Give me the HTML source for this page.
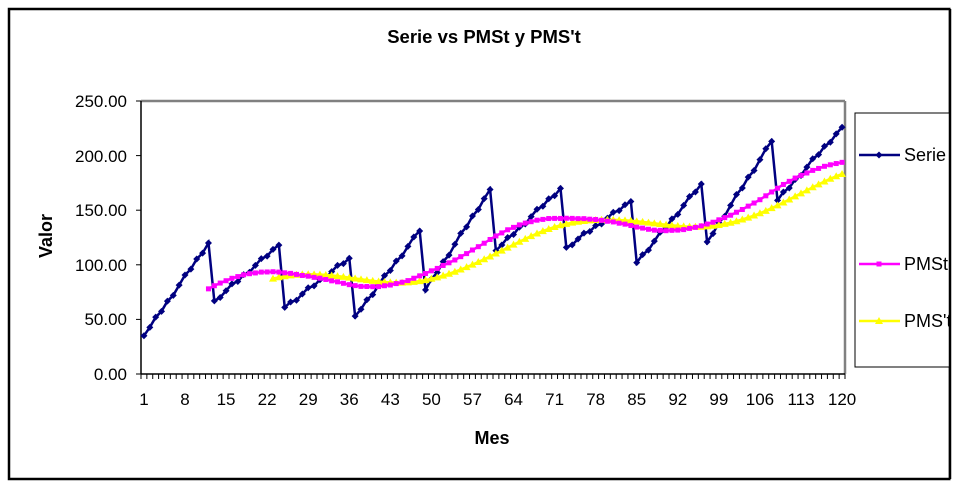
<!DOCTYPE html>
<html><head><meta charset="utf-8"><style>
body{margin:0;background:#fff;}
svg{display:block;font-family:"Liberation Sans",Arial,sans-serif;}
</style></head><body>
<svg id="s" width="960" height="487" viewBox="0 0 960 487" xmlns="http://www.w3.org/2000/svg">
<rect x="0" y="0" width="960" height="487" fill="#fff"/>
<rect x="9" y="9" width="941" height="470" fill="none" stroke="#000" stroke-width="2.5"/>
<text x="484" y="43" font-size="18.5" font-weight="bold" text-anchor="middle">Serie vs PMSt y PMS't</text>
<g font-size="17" text-anchor="end">
<text x="127" y="107">250.00</text>
<text x="127" y="162">200.00</text>
<text x="127" y="216">150.00</text>
<text x="127" y="271">100.00</text>
<text x="127" y="325">50.00</text>
<text x="127" y="380">0.00</text>
</g>
<text transform="translate(52,236) rotate(-90)" font-size="18" font-weight="bold" text-anchor="middle">Valor</text>
<text x="492" y="444" font-size="18" font-weight="bold" text-anchor="middle">Mes</text>
<g id="xl" font-size="17" text-anchor="middle"></g>
<line x1="141" y1="101" x2="845" y2="101" stroke="#808080" stroke-width="2.5"/>
<line x1="845" y1="101" x2="845" y2="374" stroke="#808080" stroke-width="2.5"/>
<line x1="141" y1="101" x2="141" y2="374" stroke="#000" stroke-width="1.5"/>
<line x1="141" y1="374" x2="845" y2="374" stroke="#000" stroke-width="1.5"/>
<g id="ticks" stroke="#000" stroke-width="1"></g>
<g id="plot"></g>
<rect x="855" y="113" width="100" height="254" fill="#fff" stroke="#000" stroke-width="1"/>
<g font-size="18">
<line x1="859" y1="155" x2="900" y2="155" stroke="#000080" stroke-width="2.5"/><rect x="876.5" y="152.5" width="5" height="5" fill="#000080" transform="rotate(45 879 155)"/>
<text x="904" y="161">Serie</text>
<line x1="859" y1="264" x2="900" y2="264" stroke="#ff00ff" stroke-width="2.5"/><rect x="876.5" y="261.5" width="5" height="5" fill="#ff00ff"/>
<text x="904" y="270">PMSt</text>
<line x1="859" y1="321" x2="900" y2="321" stroke="#ffff00" stroke-width="2.5"/><polygon points="879,317 883,324 875,324" fill="#ffff00"/>
<text x="904" y="327">PMS't</text>
</g>
<rect x="950.5" y="0" width="10" height="487" fill="#fff"/>
<line x1="950" y1="9" x2="950" y2="479" stroke="#000" stroke-width="2.5"/>
</svg>
<script>
(function(){
var NS="http://www.w3.org/2000/svg";
function X(i){return 141+(i-0.5)*704/120;}
function Y(v){return 374-v*273/250;}
var xl=document.getElementById('xl'),tk=document.getElementById('ticks'),pl=document.getElementById('plot');
for(var i=1;i<=120;i+=7){var t=document.createElementNS(NS,'text');t.setAttribute('x',X(i));t.setAttribute('y',405);t.textContent=i;xl.appendChild(t);}
for(var i=0;i<=120;i++){var l=document.createElementNS(NS,'line');var x=141+i*704/120;l.setAttribute('x1',x);l.setAttribute('x2',x);l.setAttribute('y1',374);l.setAttribute('y2',379);tk.appendChild(l);}
[101,155.6,210.2,264.8,319.4,374].forEach(function(y){var l=document.createElementNS(NS,'line');l.setAttribute('x1',136);l.setAttribute('x2',141);l.setAttribute('y1',y);l.setAttribute('y2',y);l.setAttribute('stroke','#000');pl.appendChild(l);});
var st=[35,67,61,53,77,113,116,102,121,159],en=[120,118,106,131,169,170,158,174,213,226];
var s=[];
for(var c=0;c<10;c++){for(var k=0;k<12;k++){var v=st[c]+(en[c]-st[c])*k/11;v+=((k*7+c*3)%5-2)*0.8*(k>0&&k<11?1:0);s.push(v);}}
var p1=[],p2=[];
for(var i=0;i<120;i++){if(i>=11){var a=0;for(var j=i-11;j<=i;j++)a+=s[j];p1[i]=a/12;}}
for(var i=22;i<120;i++){var a=0;for(var j=i-11;j<=i;j++)a+=p1[j];p2[i]=a/12;}
for(var i=11;i<120;i++){var tr=75+i*1.0;p1[i]=p1[i]+(p1[i]-tr)*0.12+1.5;}
function draw(arr,col,mk){var pts=[];for(var i=0;i<120;i++)if(arr[i]!==undefined)pts.push([X(i+1),Y(arr[i])]);
var pth=document.createElementNS(NS,'polyline');pth.setAttribute('points',pts.map(function(p){return p[0].toFixed(1)+','+p[1].toFixed(1)}).join(' '));pth.setAttribute('fill','none');pth.setAttribute('stroke',col);pth.setAttribute('stroke-width','2.5');pl.appendChild(pth);
pts.forEach(function(p){var m;if(mk=='d'){m=document.createElementNS(NS,'polygon');m.setAttribute('points',(p[0])+','+(p[1]-3.5)+' '+(p[0]+3.5)+','+p[1]+' '+p[0]+','+(p[1]+3.5)+' '+(p[0]-3.5)+','+p[1]);}
else if(mk=='s'){m=document.createElementNS(NS,'rect');m.setAttribute('x',p[0]-2.5);m.setAttribute('y',p[1]-2.5);m.setAttribute('width',5);m.setAttribute('height',5);}
else{m=document.createElementNS(NS,'polygon');m.setAttribute('points',p[0]+','+(p[1]-4)+' '+(p[0]+4)+','+(p[1]+3)+' '+(p[0]-4)+','+(p[1]+3));}
m.setAttribute('fill',col);pl.appendChild(m);});}
draw(s,'#000080','d');draw(p2,'#ffff00','t');draw(p1,'#ff00ff','s');
})();
</script>
</body></html>
